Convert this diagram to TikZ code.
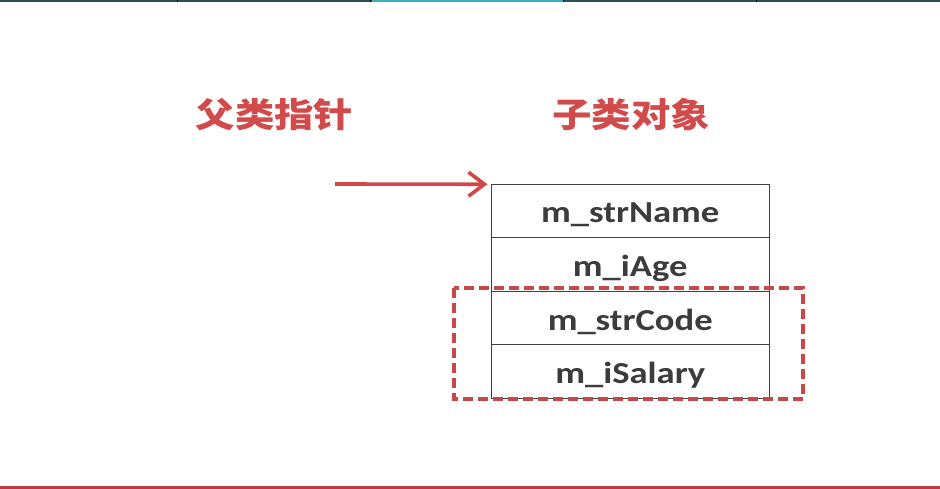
\documentclass[tikz,border=0pt]{standalone}
\usepackage{fontspec}
\usetikzlibrary{arrows.meta,calc}
\newfontfamily\cjk[FakeStretch=1.16]{Noto Sans CJK SC}
\newfontfamily\lbl[FakeStretch=1.2]{Carlito}
\definecolor{titlered}{HTML}{D24B4B}
\definecolor{arrowred}{HTML}{D04848}
\definecolor{boxred}{HTML}{C8484A}
\definecolor{txtgray}{HTML}{3C3C3C}
\definecolor{topdark}{HTML}{2F4F50}
\definecolor{topcyan}{HTML}{3BB0C0}
\definecolor{botred}{HTML}{C0393F}
\tikzset{
  title/.style={text=titlered, font=\cjk\bfseries\fontsize{34}{40}\selectfont, anchor=base, inner sep=0pt},
  rowbox/.style={draw=black!75, line width=1pt, minimum width=277.5pt, minimum height=53.5pt,
    inner sep=0pt, outer sep=0pt, text height=28pt, text depth=4pt, text=txtgray,
    font=\lbl\bfseries\fontsize{30.5}{36}\selectfont},
  ptrarrow/.style={draw=arrowred, line width=3.6pt, -{Straight Barb[length=16pt,width=24pt]}},
  dashbox/.style={draw=boxred, line width=3.6pt, dash pattern=on 10pt off 5pt},
}
\begin{document}
\begin{tikzpicture}[x=1pt,y=-1pt]
\useasboundingbox (0,0) rectangle (940,489);
\fill[white] (0,0) rectangle (940,489);
% top strip
\fill[topdark] (0,0) rectangle (940,2);
\fill[topcyan] (371.5,0) rectangle (562.5,2);
\foreach \sx in {177.5,370.5,563.5,756.5} \fill[black] (\sx-0.6,0) rectangle (\sx+0.6,2);
% bottom line
\fill[botred] (0,486) rectangle (940,489);
% titles
\node[title] (t1) at (274.5,128) {父类指针};
\node[title] (t2) at (631,128) {子类对象};
% table
\node[rowbox] (r1) at (630.25,211) {m\_strName};
\node[rowbox, anchor=north] (r2) at (r1.south) {m\_iAge};
\node[rowbox, anchor=north] (r3) at (r2.south) {m\_strCode};
\node[rowbox, anchor=north] (r4) at (r3.south) {m\_iSalary};
% pointer arrow
\coordinate (p0) at (335,184);
\draw[ptrarrow, shorten >=4pt] (p0) -- (r1.north west);
% dashed box
\draw[dashbox] ($(r3.north west)+(-37.5,-3)$) rectangle ($(r4.south east)+(34,1)$);
\end{tikzpicture}
\end{document}
